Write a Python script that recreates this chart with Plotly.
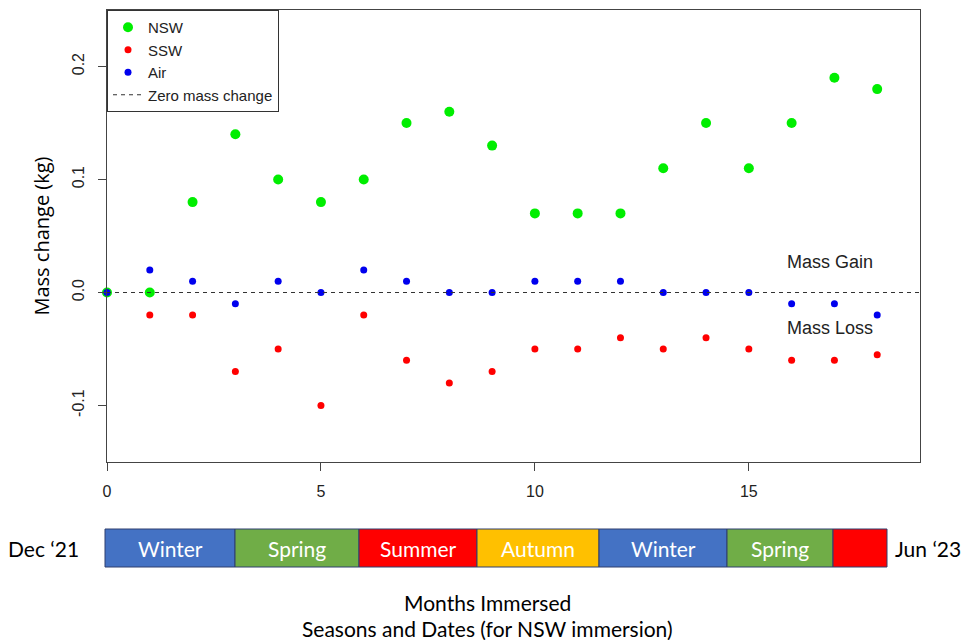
import plotly.graph_objects as go

# ---- data ----
months = list(range(0, 19))
nsw = [0.0, 0.0, 0.08, 0.14, 0.10, 0.08, 0.10, 0.15, 0.16, 0.13, 0.07, 0.07, 0.07, 0.11, 0.15, 0.11, 0.15, 0.19, 0.18]
ssw = [0.0, -0.02, -0.02, -0.07, -0.05, -0.10, -0.02, -0.06, -0.08, -0.07, -0.05, -0.05, -0.04, -0.05, -0.04, -0.05, -0.06, -0.06, -0.055]
air = [0.0, 0.02, 0.01, -0.01, 0.01, 0.0, 0.02, 0.01, 0.0, 0.0, 0.01, 0.01, 0.01, 0.0, 0.0, 0.0, -0.01, -0.01, -0.02]
x_ticks = [0, 5, 10, 15]
y_ticks = [-0.1, 0.0, 0.1, 0.2]
y_tick_text = ["-0.1", "0.0", "0.1", "0.2"]
seasons = ["Winter", "Spring", "Summer", "Autumn", "Winter", "Spring", ""]
season_colors = ["#4472C4", "#70AD47", "#FF0000", "#FFC000", "#4472C4", "#70AD47", "#FF0000"]
# season boundaries in pixels (layout positions)
season_edges_px = [105, 235, 359, 477, 599, 727, 833, 887]

W, H = 963, 640
L, R, T, B = 107, 43, 10, 178
pw, ph = W - L - R, H - T - B
xr = [0, 19]
yr = [-0.15, 0.25]

R_FONT = "Arial, Liberation Sans, sans-serif"
C_FONT = "Lato, sans-serif"

def px_to_paper_x(px):
    return (px - L) / pw

def py_to_paper_y(py):
    return (H - B - py) / ph

fig = go.Figure()
fig.add_trace(go.Scatter(x=months, y=ssw, mode="markers", name="SSW", legendrank=2,
                         marker=dict(color="#FF0000", size=7), cliponaxis=False))
fig.add_trace(go.Scatter(x=months, y=nsw, mode="markers", name="NSW", legendrank=1,
                         marker=dict(color="#00EE00", size=10), cliponaxis=False))
fig.add_trace(go.Scatter(x=months, y=air, mode="markers", name="Air", legendrank=3,
                         marker=dict(color="#0000EE", size=7), cliponaxis=False))
fig.add_trace(go.Scatter(x=xr, y=[0, 0], mode="lines", name="Zero mass change", legendrank=4,
                         line=dict(color="#333333", width=1.2, dash="4px,4px"), cliponaxis=True))

shapes = []
annotations = []
for i, (lab, col) in enumerate(zip(seasons, season_colors)):
    x0 = px_to_paper_x(season_edges_px[i])
    x1 = px_to_paper_x(season_edges_px[i + 1])
    y0 = py_to_paper_y(567)
    y1 = py_to_paper_y(529)
    shapes.append(dict(type="rect", xref="paper", yref="paper", x0=x0, x1=x1, y0=y0, y1=y1,
                       fillcolor=col, line=dict(color="#2F3F6F", width=1)))
    if lab:
        annotations.append(dict(text=lab, xref="paper", yref="paper", x=(x0 + x1) / 2, y=(y0 + y1) / 2,
                                showarrow=False, font=dict(family=C_FONT, size=21, color="white"),
                                xanchor="center", yanchor="middle"))

def paper_text(txt, px, py):
    return dict(text=txt, xref="paper", yref="paper", x=px_to_paper_x(px), y=py_to_paper_y(py),
                showarrow=False, font=dict(family=C_FONT, size=21, color="black"),
                xanchor="center", yanchor="middle")

annotations += [
    paper_text("Dec \u201821", 44, 548),
    paper_text("Jun \u201823", 928, 548),
    paper_text("Months Immersed", 487, 602),
    paper_text("Seasons and Dates (for NSW immersion)", 487, 628),
    dict(text="Mass Gain", x=15.85, y=0.027, xanchor="left", yanchor="middle", showarrow=False,
         font=dict(family=R_FONT, size=18, color="#222222")),
    dict(text="Mass Loss", x=15.85, y=-0.031, xanchor="left", yanchor="middle", showarrow=False,
         font=dict(family=R_FONT, size=18, color="#222222")),
]

fig.update_layout(
    width=W, height=H,
    margin=dict(l=L, r=R, t=T, b=B),
    paper_bgcolor="white", plot_bgcolor="white",
    font=dict(family=R_FONT, size=15, color="#222222"),
    shapes=shapes, annotations=annotations,
    showlegend=True,
    legend=dict(x=0, y=1, xanchor="left", yanchor="top", bgcolor="white",
                bordercolor="#333333", borderwidth=1, font=dict(family=R_FONT, size=15, color="#222222"),
                tracegroupgap=0, itemwidth=30),
    xaxis=dict(range=xr, tickvals=x_ticks, showgrid=False, zeroline=False,
               showline=True, mirror=True, linecolor="#444444", linewidth=1.2,
               ticks="outside", ticklen=8, tickcolor="#444444", ticklabelstandoff=7,
               tickfont=dict(family=R_FONT, size=16, color="#222222")),
    yaxis=dict(range=yr, tickvals=y_ticks, ticktext=y_tick_text, showgrid=False, zeroline=False,
               showline=True, mirror=True, linecolor="#444444", linewidth=1.2,
               ticks="outside", ticklen=8, tickcolor="#444444", tickangle=-90, ticklabelstandoff=8,
               tickfont=dict(family=R_FONT, size=16, color="#222222"),
               title=dict(text="Mass change (kg)", font=dict(family="Open Sans", size=20, color="black"),
                          standoff=14)),
)

fig.write_html("out.html")
